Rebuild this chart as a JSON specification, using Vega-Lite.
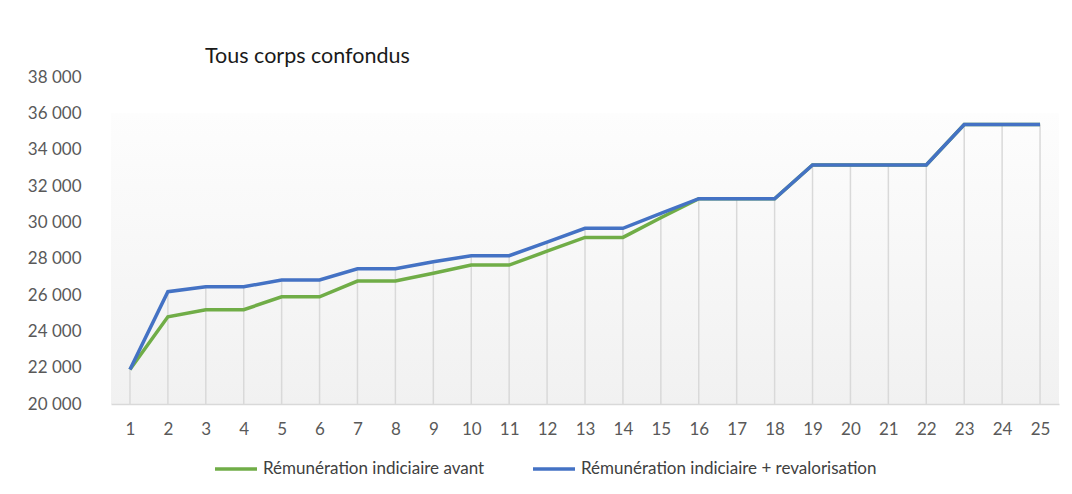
{
  "$schema": "https://vega.github.io/schema/vega-lite/v6.json",
  "autosize": "none",
  "width": 948,
  "height": 327,
  "padding": {"left": 111, "top": 77, "right": 13, "bottom": 90},
  "background": "#ffffff",
  "title": {
    "text": "Tous corps confondus",
    "anchor": "start",
    "frame": "group",
    "dx": 94,
    "offset": 1,
    "fontSize": 21.5,
    "fontWeight": "normal",
    "font": "Lato",
    "color": "#1a1a1a"
  },
  "config": {
    "font": "Lato",
    "axisY": {"labelOverlap": false, "labelFlush": false},
    "view": {
      "stroke": null,
      "fill": {
        "gradient": "linear",
        "x1": 0, "y1": 0, "x2": 0, "y2": 1,
        "stops": [
          {"offset": 0, "color": "#ffffff"},
          {"offset": 0.11, "color": "#ffffff"},
          {"offset": 0.112, "color": "#fdfdfd"},
          {"offset": 1, "color": "#f1f1f1"}
        ]
      }
    }
  },
  "data": {
    "values": [
      {"echelon": 1, "avant": 21900, "revalo": 21900},
      {"echelon": 2, "avant": 24800, "revalo": 26180},
      {"echelon": 3, "avant": 25190, "revalo": 26450},
      {"echelon": 4, "avant": 25190, "revalo": 26450},
      {"echelon": 5, "avant": 25900, "revalo": 26830},
      {"echelon": 6, "avant": 25900, "revalo": 26830},
      {"echelon": 7, "avant": 26770, "revalo": 27440},
      {"echelon": 8, "avant": 26770, "revalo": 27440},
      {"echelon": 9, "avant": 27200, "revalo": 27830},
      {"echelon": 10, "avant": 27650, "revalo": 28160},
      {"echelon": 11, "avant": 27650, "revalo": 28160},
      {"echelon": 12, "avant": 28410, "revalo": 28910},
      {"echelon": 13, "avant": 29170, "revalo": 29670},
      {"echelon": 14, "avant": 29170, "revalo": 29670},
      {"echelon": 15, "avant": 30250, "revalo": 30490},
      {"echelon": 16, "avant": 31300, "revalo": 31300},
      {"echelon": 17, "avant": 31300, "revalo": 31300},
      {"echelon": 18, "avant": 31300, "revalo": 31300},
      {"echelon": 19, "avant": 33160, "revalo": 33160},
      {"echelon": 20, "avant": 33160, "revalo": 33160},
      {"echelon": 21, "avant": 33160, "revalo": 33160},
      {"echelon": 22, "avant": 33160, "revalo": 33160},
      {"echelon": 23, "avant": 35380, "revalo": 35380},
      {"echelon": 24, "avant": 35380, "revalo": 35380},
      {"echelon": 25, "avant": 35380, "revalo": 35380}
    ]
  },
  "encoding": {
    "x": {
      "field": "echelon",
      "type": "ordinal",
      "scale": {"type": "point", "padding": 0.5},
      "axis": {
        "title": null,
        "labelAngle": 0,
        "ticks": false,
        "grid": false,
        "domainColor": "#d9d9d9",
        "domainWidth": 1.5,
        "labelFontSize": 17,
        "labelColor": "#595959",
        "labelPadding": 17,
        "labelOverlap": false
      }
    }
  },
  "layer": [
    {
      "mark": {"type": "rule", "color": "#d9d9d9", "strokeWidth": 1.5},
      "encoding": {
        "y": {
          "field": "revalo",
          "type": "quantitative",
          "scale": {"domain": [20000, 38000], "nice": false, "zero": false},
          "axis": {
            "title": null,
            "values": [20000, 22000, 24000, 26000, 28000, 30000, 32000, 34000, 36000, 38000],
            "grid": false,
            "ticks": false,
            "domain": false,
            "labelFontSize": 17,
            "labelColor": "#595959",
            "labelPadding": 30,
            "labelOverlap": false,
            "labelFlush": false,
            "labelExpr": "replace(format(datum.value, ','), ',', ' ')"
          }
        },
        "y2": {"datum": 20000}
      }
    },
    {
      "mark": {"type": "line", "strokeWidth": 3.5},
      "encoding": {
        "y": {
          "field": "avant",
          "type": "quantitative",
          "scale": {"domain": [20000, 38000], "nice": false, "zero": false},
          "axis": {
            "title": null,
            "values": [20000, 22000, 24000, 26000, 28000, 30000, 32000, 34000, 36000, 38000],
            "grid": false,
            "ticks": false,
            "domain": false,
            "labelFontSize": 17,
            "labelColor": "#595959",
            "labelPadding": 30,
            "labelOverlap": false,
            "labelFlush": false,
            "labelExpr": "replace(format(datum.value, ','), ',', ' ')"
          }
        },
        "color": {"datum": "Rémunération indiciaire avant"}
      }
    },
    {
      "mark": {"type": "line", "strokeWidth": 3.5},
      "encoding": {
        "y": {
          "field": "revalo",
          "type": "quantitative",
          "scale": {"domain": [20000, 38000], "nice": false, "zero": false},
          "axis": {
            "title": null,
            "values": [20000, 22000, 24000, 26000, 28000, 30000, 32000, 34000, 36000, 38000],
            "grid": false,
            "ticks": false,
            "domain": false,
            "labelFontSize": 17,
            "labelColor": "#595959",
            "labelPadding": 30,
            "labelOverlap": false,
            "labelFlush": false,
            "labelExpr": "replace(format(datum.value, ','), ',', ' ')"
          }
        },
        "color": {
          "datum": "Rémunération indiciaire + revalorisation",
          "scale": {
            "domain": ["Rémunération indiciaire avant", "Rémunération indiciaire + revalorisation"],
            "range": ["#70ad47", "#4472c4"]
          },
          "legend": {
            "title": null,
            "orient": "none",
            "direction": "horizontal",
            "legendX": 102,
            "legendY": 369,
            "symbolType": "stroke",
            "symbolSize": 1764,
            "symbolStrokeWidth": 3.5,
            "labelFontSize": 17,
            "labelColor": "#404040",
            "labelOffset": 4,
            "columnPadding": 41,
            "padding": 0,
            "labelLimit": 400
          }
        }
      }
    }
  ]
}
